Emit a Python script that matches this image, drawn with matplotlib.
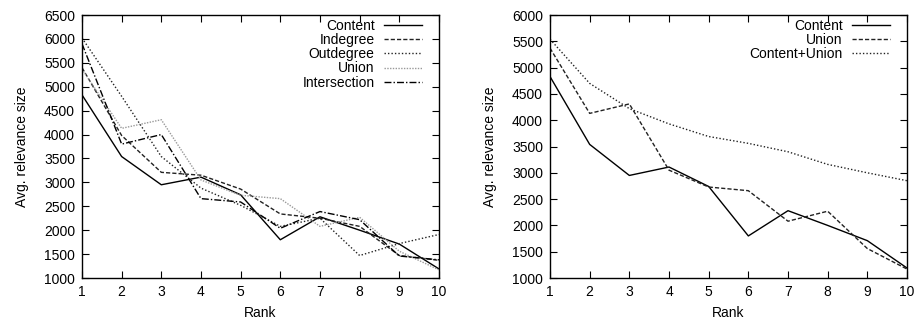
import numpy as np
import matplotlib.pyplot as plt

plt.rcParams['font.family'] = ['Liberation Sans', 'DejaVu Sans']

# Data
rank = np.arange(1, 11)

content = np.array([4830, 3540, 2950, 3110, 2740, 1800, 2280, 2000, 1710, 1190])
indegree = np.array([5400, 3980, 3210, 3150, 2860, 2340, 2250, 2080, 1470, 1370])
outdegree = np.array([6020, 4800, 3540, 2880, 2520, 2080, 2250, 1470, 1720, 1910])
union = np.array([5370, 4130, 4310, 3050, 2730, 2660, 2080, 2270, 1560, 1170])
intersection = np.array([5900, 3800, 4000, 2660, 2590, 2040, 2390, 2220, 1460, 1380])
content_union = np.array([5540, 4700, 4220, 3930, 3690, 3560, 3400, 3160, 3000, 2850])

left_yticks = np.arange(1000, 6501, 500)
right_yticks = np.arange(1000, 6001, 500)

fig = plt.figure(figsize=(9.17, 3.23), dpi=100)
ax1 = fig.add_axes([0.0894, 0.1393, 0.3893, 0.8142])
ax2 = fig.add_axes([0.5998, 0.1393, 0.3893, 0.8142])

lw = 1.0
ax1.plot(rank, content, color='black', lw=lw, ls='-', label='Content')
ax1.plot(rank, indegree, color='#222222', lw=lw, ls=(0, (3, 1.5)), label='Indegree')
ax1.plot(rank, outdegree, color='#222222', lw=lw, ls=(0, (1, 1.5)), label='Outdegree')
ax1.plot(rank, union, color='#999999', lw=lw, ls=(0, (1, 1)), label='Union')
ax1.plot(rank, intersection, color='black', lw=lw, ls=(0, (5, 1.5, 1, 1.5)), label='Intersection')

ax2.plot(rank, content, color='black', lw=lw, ls='-', label='Content')
ax2.plot(rank, union, color='#222222', lw=lw, ls=(0, (3, 1.5)), label='Union')
ax2.plot(rank, content_union, color='#222222', lw=lw, ls=(0, (1, 1.5)), label='Content+Union')

for ax, yt in [(ax1, left_yticks), (ax2, right_yticks)]:
    ax.set_xlim(1, 10)
    ax.set_ylim(yt[0], yt[-1])
    ax.set_xticks(rank)
    ax.set_yticks(yt)
    ax.tick_params(direction='in', top=True, right=True, length=5, width=0.8,
                   labelsize=10, pad=5)
    for sp in ax.spines.values():
        sp.set_linewidth(1.0)
    ax.set_xlabel('Rank', fontsize=10, labelpad=5)
    ax.set_ylabel('Avg. relevance size', fontsize=10, labelpad=11)
    ax.legend(loc='upper right', bbox_to_anchor=(0.952, 0.985), frameon=False,
              markerfirst=False, fontsize=10, labelspacing=0.01,
              handlelength=2.7, handletextpad=0.7, borderpad=0, borderaxespad=0)

fig.savefig('out.png', dpi=100)
